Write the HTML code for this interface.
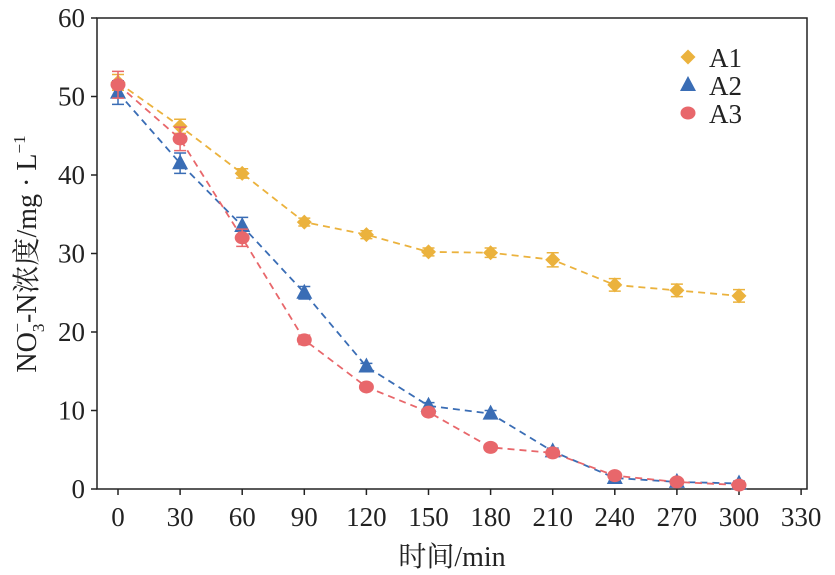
<!DOCTYPE html>
<html><head><meta charset="utf-8"><style>
body{margin:0;background:#fff}
svg{display:block;font-family:"Liberation Serif","Noto Serif CJK SC",serif}
</style></head><body>
<svg id="c" width="835" height="575"></svg>
<script>
const xCats=[0,30,60,90,120,150,180,210,240,270,300];
const xTicks=[0,30,60,90,120,150,180,210,240,270,300,330];
const yTicks=[0,10,20,30,40,50,60];
const a1=[51.8,46.2,40.2,34,32.4,30.2,30.1,29.2,26,25.3,24.6];
const a2=[50.5,41.5,33.5,25,15.6,10.6,9.6,4.8,1.4,0.9,0.7];
const a3=[51.5,44.6,32,19,13,9.8,5.3,4.6,1.7,0.9,0.5];
const e1=[1,0.9,0.6,0.5,0.5,0.5,0.6,0.9,0.8,0.8,0.8];
const e2=[1.5,1.3,1.1,0.8,0.4,0.4,0.4,0.4,0.3,0.3,0.3];
const e3=[1.7,1.5,1.1,0.6,0.4,0.4,0.4,0.4,0.3,0.3,0.3];
const NS='http://www.w3.org/2000/svg';
const svg=document.getElementById('c');
const L=97,R=807,T=18,B=489;
const X=v=>118+(v)*(621/300);
const Y=v=>B-v*(B-T)/60;
function el(t,a,p){const e=document.createElementNS(NS,t);for(const k in a)e.setAttribute(k,a[k]);(p||svg).appendChild(e);return e;}
const frame=el('rect',{x:L,y:T,width:R-L,height:B-T,fill:'none',stroke:'#222','stroke-width':1.5});


xTicks.forEach(t=>{
 el('line',{x1:X(t),x2:X(t),y1:B,y2:B+6,stroke:'#222','stroke-width':1.5});
 const tx=el('text',{x:X(t),y:B+37,'font-size':27,'text-anchor':'middle',fill:'#222'});tx.textContent=t;
 
 
});
yTicks.forEach(t=>{
 el('line',{x1:L-6,x2:L,y1:Y(t),y2:Y(t),stroke:'#222','stroke-width':1.5});
 const tx=el('text',{x:L-12,y:Y(t)+9,'font-size':27,'text-anchor':'end',fill:'#222'});tx.textContent=t;
 
 
});
const xt=el('text',{x:452,y:566,'font-size':28,'text-anchor':'middle',fill:'#222'});xt.textContent='时间/min';


const yt=el('text',{transform:'translate(36,254) rotate(-90)','font-size':28,'text-anchor':'middle',fill:'#222'});
yt.innerHTML='NO<tspan font-size="17" dy="8">3</tspan><tspan font-size="17" dx="-9" dy="-21">−</tspan><tspan dy="13">-N浓度/mg · L</tspan><tspan font-size="17" dy="-11">−1</tspan>';


const series=[[a1,e1,'#EBB23D','d','A1'],[a2,e2,'#3A6DB5','t','A2'],[a3,e3,'#E8676B','c','A3']];
function marker(sh,x,y,c,g){
 if(sh==='d')return el('polygon',{points:`${x},${y-7.5} ${x+7.5},${y} ${x},${y+7.5} ${x-7.5},${y}`,fill:c},g);
 if(sh==='t')return el('polygon',{points:`${x},${y-9} ${x+8},${y+6} ${x-8},${y+6}`,fill:c},g);
 return el('ellipse',{cx:x,cy:y,rx:7.5,ry:6.5,fill:c},g);
}
series.forEach(([d,e,c,sh,nm],si)=>{
 const g=el('g',{});
 
 
 el('polyline',{points:d.map((v,i)=>X(xCats[i])+','+Y(v)).join(' '),fill:'none',stroke:c,'stroke-width':1.8,'stroke-dasharray':'7,5'},g);
 d.forEach((v,i)=>{
  const x=X(xCats[i]);
  el('path',{d:`M${x},${Y(v-e[i])}V${Y(v+e[i])}M${x-6},${Y(v-e[i])}H${x+6}M${x-6},${Y(v+e[i])}H${x+6}`,stroke:c,'stroke-width':1.5,fill:'none'},g);
  const m=marker(sh,x,Y(v),c,g);
  
  
 });
 const lg=el('g',{});
 
 
 const ly=57+si*28;
 marker(sh,688,ly,c,lg);
 const t=el('text',{x:709,y:ly+10,'font-size':27,fill:'#222'},lg);t.textContent=nm;
});
</script>
</body></html>
